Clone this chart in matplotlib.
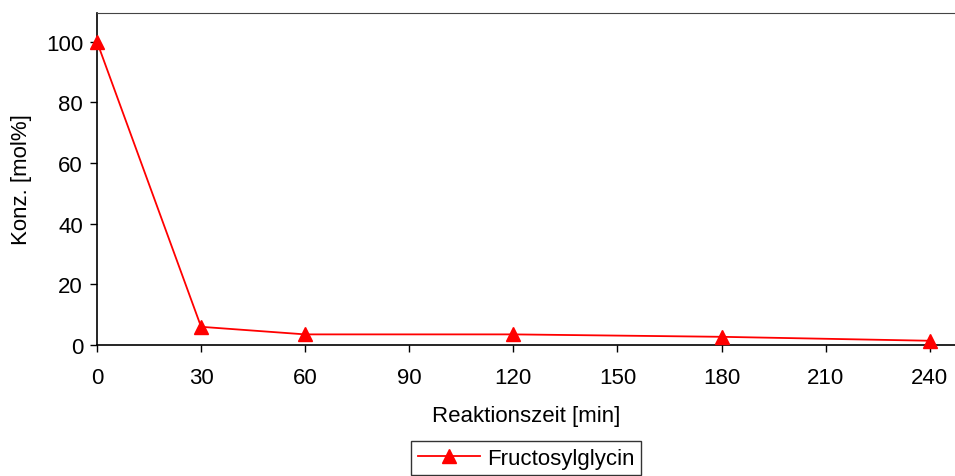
import matplotlib.pyplot as plt

plt.rcParams['font.family'] = ['Liberation Sans', 'DejaVu Sans']

zeit = [0, 30, 60, 120, 180, 240]
konz = [100, 6.0, 3.5, 3.5, 2.7, 1.4]
xticks = [0, 30, 60, 90, 120, 150, 180, 210, 240]
yticks = [0, 20, 40, 60, 80, 100]

fig = plt.figure(figsize=(9.55, 4.77), dpi=100)
ax = fig.add_axes([97 / 955, 1 - 346 / 477, 1 - 97 / 955, (346 - 14) / 477])

ax.plot(zeit, konz, color='#ff0000', lw=1.3, marker='^', ms=10,
        label='Fructosylglycin', clip_on=False, zorder=3)

ax.set_xlim(0, 247.3)
ax.set_ylim(0, 109.5)
ax.set_xticks(xticks)
ax.set_yticks(yticks)
ax.tick_params(labelsize=16, direction='out', length=5, width=1)
ax.tick_params(axis='x', pad=11)
ax.tick_params(axis='y', pad=5)
ax.spines['right'].set_visible(False)
ax.spines['top'].set_color('#444444')
ax.spines['left'].set_linewidth(1.2)
ax.spines['bottom'].set_linewidth(1.2)

ax.set_xlabel('Reaktionszeit [min]', fontsize=16, labelpad=12)
ax.set_ylabel('Konz. [mol%]', fontsize=16, labelpad=10)

fig.legend(loc='upper center', bbox_to_anchor=(526 / 955, 1 - 431 / 477),
           fontsize=16, frameon=True, fancybox=False, edgecolor='black',
           handlelength=2.8, handletextpad=0.3, borderpad=0.3)

fig.savefig('out.png', dpi=100)
